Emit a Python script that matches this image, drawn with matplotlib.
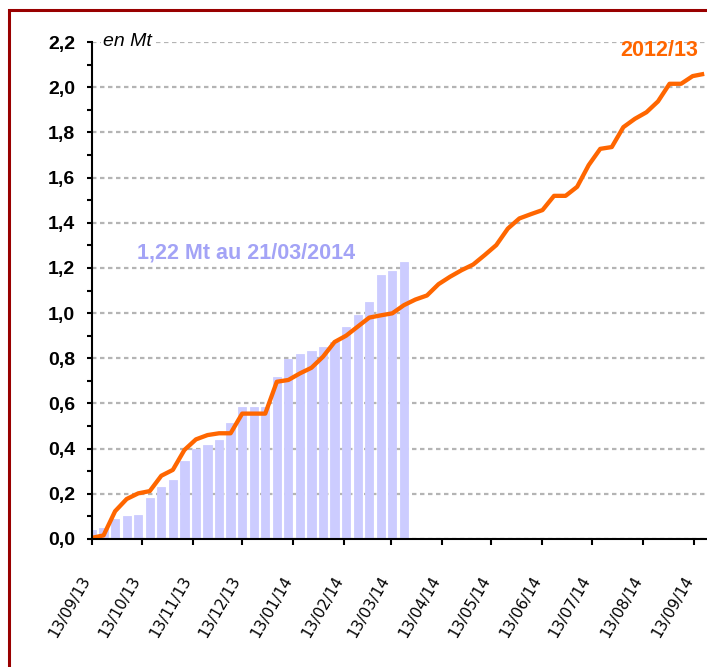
import datetime as dt
import matplotlib
matplotlib.use("Agg")
import matplotlib.pyplot as plt
import matplotlib.dates as mdates
import matplotlib.transforms as mtransforms
from matplotlib.patches import Rectangle
from matplotlib.ticker import MultipleLocator, FuncFormatter

# ---- data ----
start_date = dt.date(2013, 9, 13)

# 2013/14 campaign, weekly cumulative (Mt), bars
bar_values = [0.04, 0.05, 0.09, 0.10, 0.105, 0.18, 0.23, 0.26, 0.345, 0.40,
              0.415, 0.44, 0.515, 0.583, 0.583, 0.583, 0.715, 0.795, 0.82, 0.83,
              0.848, 0.872, 0.937, 0.99, 1.05, 1.167, 1.185, 1.225]

# 2012/13 campaign, weekly cumulative (Mt), line
line_values = [0.005, 0.016, 0.123, 0.177, 0.202, 0.212, 0.280, 0.306, 0.394, 0.441,
               0.460, 0.468, 0.468, 0.555, 0.555, 0.555, 0.696, 0.704, 0.733, 0.758,
               0.807, 0.872, 0.900, 0.940, 0.980, 0.990, 0.999, 1.035, 1.060, 1.078,
               1.128, 1.161, 1.190, 1.215, 1.257, 1.301, 1.374, 1.419, 1.438, 1.456,
               1.519, 1.519, 1.559, 1.655, 1.727, 1.735, 1.823, 1.860, 1.889, 1.937,
               2.015, 2.015, 2.049, 2.059]

tick_labels = ["13/09/13", "13/10/13", "13/11/13", "13/12/13", "13/01/14",
               "13/02/14", "13/03/14", "13/04/14", "13/05/14", "13/06/14",
               "13/07/14", "13/08/14", "13/09/14"]

series_label = "2012/13"
bar_label = "1,22 Mt au 21/03/2014"
unit_label = "en Mt"

# ---- derived ----
bar_dates = [start_date + dt.timedelta(days=7 * i) for i in range(len(bar_values))]
line_dates = [start_date + dt.timedelta(days=7 * i) for i in range(len(line_values))]
tick_dates = [dt.datetime.strptime(s, "%d/%m/%y").date() for s in tick_labels]

W, H = 707, 667
fig = plt.figure(figsize=(W / 100, H / 100), dpi=100)
fig.patch.set_facecolor("white")
ax = fig.add_axes([92 / W, 128 / H, 615 / W, 497 / H])

ax.bar(bar_dates, bar_values, width=5.0, color="#CCCCFF", edgecolor="#CCCCFF",
       linewidth=0.6, zorder=2)
ax.plot(line_dates, line_values, color="#FF6600", lw=3.1, zorder=3,
        solid_joinstyle="round", solid_capstyle="butt")

x0 = mdates.date2num(start_date)
ax.set_xlim(x0, x0 + 372.7)
ax.set_ylim(0, 2.2)

ax.yaxis.set_major_locator(MultipleLocator(0.2))
ax.yaxis.set_minor_locator(MultipleLocator(0.1))
ax.yaxis.set_major_formatter(FuncFormatter(lambda v, _: f"{v:.1f}".replace(".", ",")))
ax.yaxis.grid(True, which="major", color="#B4B4B4", linestyle=(0, (2, 1.6)), lw=1.6)
ax.set_axisbelow(True)

for lab in ax.get_yticklabels():
    lab.set_fontfamily("Liberation Sans")
    lab.set_fontweight("bold")
    lab.set_fontsize(14)
ax.tick_params(axis="y", which="both", direction="out", length=3.6, width=1.5,
               pad=8.5, colors="black")

ax.set_xticks([mdates.date2num(d) for d in tick_dates])
ax.set_xticklabels(tick_labels, rotation=60, ha="right", va="center",
                   rotation_mode="anchor", fontsize=11, fontfamily="DejaVu Sans")
ax.tick_params(axis="x", direction="out", length=4.3, width=1.5, pad=23)
shift = mtransforms.ScaledTranslation(-5 / 100, 0, fig.dpi_scale_trans)
for lab in ax.get_xticklabels():
    lab.set_transform(lab.get_transform() + shift)

for s in ["top", "right"]:
    ax.spines[s].set_visible(False)
for s in ["left", "bottom"]:
    ax.spines[s].set_linewidth(1.5)
    ax.spines[s].set_color("black")
    ax.spines[s].set_zorder(4)

ax.text(0.0179, 0.9926, unit_label, transform=ax.transAxes, fontsize=14,
        fontstyle="italic", fontfamily="Liberation Sans", va="baseline", ha="left",
        bbox=dict(facecolor="white", edgecolor="none", pad=1.5), zorder=5)
ax.text(0.0732, 0.5634, bar_label, transform=ax.transAxes, fontsize=15.5,
        fontweight="bold", fontfamily="Liberation Sans", color="#A3A3F6",
        va="baseline", ha="left", zorder=5)
ax.text(0.8585, 0.9718, series_label, transform=ax.transAxes, fontsize=15.5,
        fontweight="bold", fontfamily="Liberation Sans", color="#FF6600",
        va="baseline", ha="left", zorder=5)

fig.patches.append(Rectangle((9 / W, -0.1), 1.2, (H - 10) / H + 0.1,
                             transform=fig.transFigure, fill=False,
                             edgecolor="#990000", lw=2.2, zorder=10))

fig.savefig("out.png", dpi=100)
